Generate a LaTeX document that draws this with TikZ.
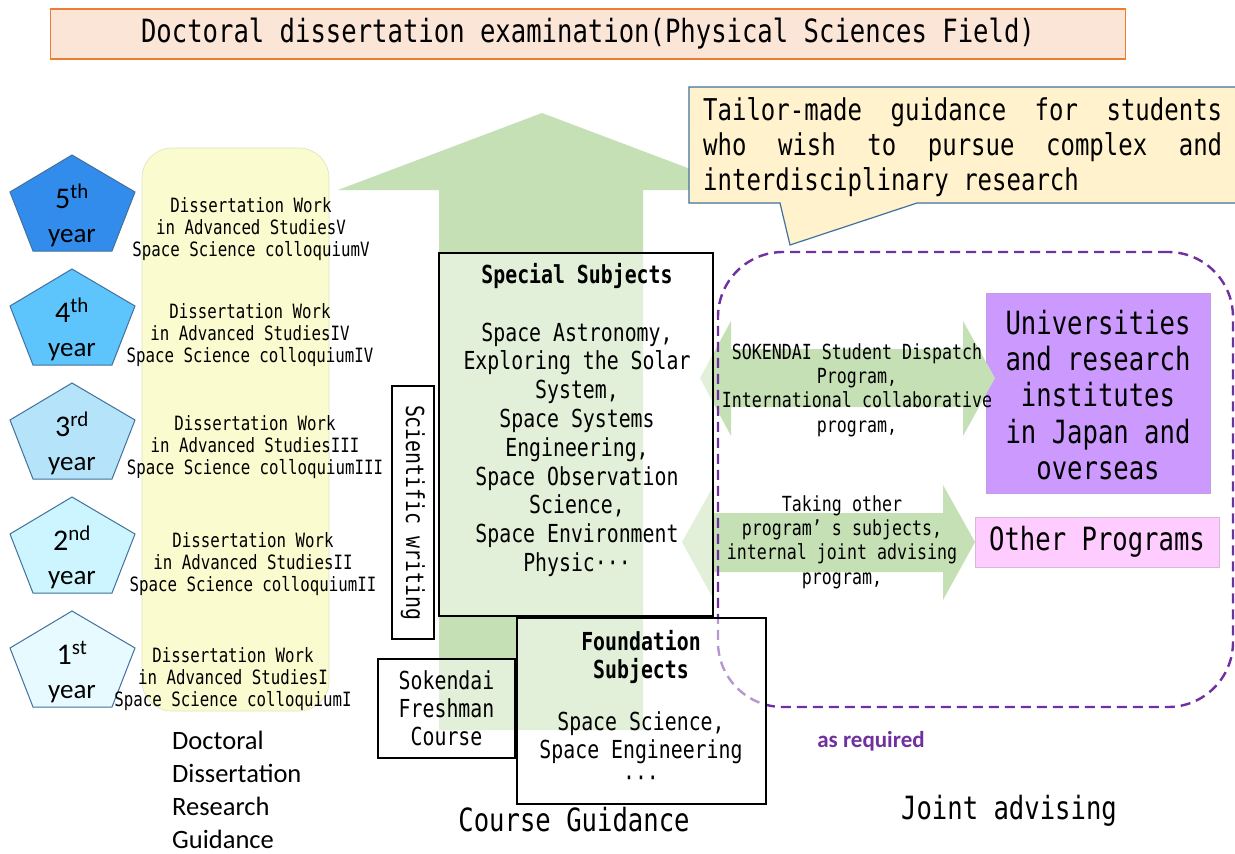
\documentclass[tikz,border=0pt]{standalone}
\usepackage{fontspec}
\setmainfont{Carlito}
\newfontfamily\gth[FakeStretch=0.8]{DejaVu Sans Mono}
\newfontfamily\calfont{Carlito}
\definecolor{titleF}{RGB}{251,229,214}
\definecolor{titleB}{RGB}{237,125,49}
\definecolor{arrowG}{RGB}{197,224,180}
\definecolor{bandF}{RGB}{250,251,206}
\definecolor{bandB}{RGB}{222,226,196}
\definecolor{pentB}{RGB}{65,113,156}
\definecolor{pA}{RGB}{50,140,236}
\definecolor{pB}{RGB}{94,196,252}
\definecolor{pC}{RGB}{180,227,250}
\definecolor{pD}{RGB}{204,245,255}
\definecolor{pE}{RGB}{230,250,255}
\definecolor{calloutF}{RGB}{255,242,204}
\definecolor{calloutB}{RGB}{65,113,156}
\definecolor{jointP}{RGB}{112,48,160}
\definecolor{uniF}{RGB}{204,153,255}
\definecolor{uniB}{RGB}{190,160,225}
\definecolor{othF}{RGB}{255,204,255}
\definecolor{othB}{RGB}{215,185,215}
\tikzset{
  pics/pent/.style={code={\draw[pentB,line width=1pt,fill=#1] (0,0) -- (63,37) -- (40,96) -- (-39,96) -- (-62,37) -- cycle;}},
  yrtxt/.style={anchor=base, inner sep=0pt, font=\calfont\fontsize{27}{32}\selectfont},
  yrnum/.style={anchor=base, inner sep=0pt, font=\calfont\fontsize{30}{32}\selectfont},
  dwtxt/.style={align=center, inner sep=0pt, font=\gth\fontsize{19.7}{22}\selectfont},
  whitebox/.style={draw=black, line width=1.3pt, fill=white, fill opacity=0.5, text opacity=1, inner sep=0pt},
  g25/.style={inner sep=0pt, align=center, font=\gth\fontsize{24.8}{28.8}\selectfont},
  g32/.style={inner sep=0pt, align=center, font=\gth\fontsize{32}{36.2}\selectfont},
  arrtxt/.style={inner sep=0pt, align=center, font=\gth\fontsize{20.8}{24.3}\selectfont},
  ctxt/.style={anchor=base west, inner sep=0pt, font=\gth\fontsize{30}{35}\selectfont},
  blockarrow/.style={fill=arrowG}
}
\begin{document}
\begin{tikzpicture}[x=1pt,y=-1pt]
\useasboundingbox (0,0) rectangle (1235,854);
\fill[white] (0,0) rectangle (1235,854);

% big upward arrow
\fill[arrowG] (439,730) -- (439,190) -- (338,190) -- (542,113) -- (746,190) -- (643,190) -- (643,730) -- cycle;

% yellow band
\node[fill=bandF, draw=bandB, line width=0.6pt, rounded corners=30pt, minimum width=187pt, minimum height=563pt, inner sep=0pt] (band) at (235.5,429.5) {};

% title
\node[draw=titleB, line width=1.3pt, fill=titleF, minimum width=1075pt, minimum height=50pt, inner sep=0pt, font=\gth\fontsize{32}{38}\selectfont] (title) at (588,34) {Doctoral dissertation examination(Physical Sciences Field)};

% pentagons
\pic at (72,155) {pent=pA};
\pic at (72,269) {pent=pB};
\pic at (72,383) {pent=pC};
\pic at (72,497) {pent=pD};
\pic at (72,611) {pent=pE};
\node[yrnum] (n5) at (72,208) {5\textsuperscript{th}};
\node[yrtxt] (y5) at (72,242) {year};
\node[yrnum] (n4) at (72,322) {4\textsuperscript{th}};
\node[yrtxt] (y4) at (72,356) {year};
\node[yrnum] (n3) at (72,436) {3\textsuperscript{rd}};
\node[yrtxt] (y3) at (72,470) {year};
\node[yrnum] (n2) at (72,550) {2\textsuperscript{nd}};
\node[yrtxt] (y2) at (72,584) {year};
\node[yrnum] (n1) at (72,664) {1\textsuperscript{st}};
\node[yrtxt] (y1) at (72,698) {year};

% dissertation work texts
\node[dwtxt] (d5) at (251,229) {Dissertation Work\\ in Advanced StudiesV\\Space Science colloquiumV};
\node[dwtxt] (d4) at (250,335) {Dissertation Work\\ in Advanced StudiesIV\\Space Science colloquiumIV};
\node[dwtxt] (d3) at (255,447) {Dissertation Work\\ in Advanced StudiesIII\\Space Science colloquiumIII};
\node[dwtxt] (d2) at (253,564) {Dissertation Work\\ in Advanced StudiesII\\Space Science colloquiumII};
\node[dwtxt] (d1) at (233,679) {Dissertation Work\\ in Advanced StudiesI\\Space Science colloquiumI};

\node[anchor=west, inner sep=0pt, align=left, font=\calfont\fontsize{26.5}{33}\selectfont] (ddrg) at (172,790) {Doctoral\\Dissertation\\Research\\Guidance};

% universities / other programs
\node[fill=uniF, draw=uniB, line width=0.8pt, minimum width=224pt, minimum height=200pt, inner sep=0pt] (uni) at (1098,393) {};
\node[g32] (unitxt) at (1098,395) {Universities\\and research\\institutes\\in Japan and\\overseas};
\node[fill=othF, draw=othB, line width=0.8pt, minimum width=244pt, minimum height=50pt, inner sep=0pt, font=\gth\fontsize{32}{36}\selectfont] (oth) at (1097,542) {Other Programs};

% double arrows
\fill[blockarrow] (700,378) -- (731,321) -- (731,349) -- (963,349) -- (963,321) -- (995,378) -- (963,436) -- (963,407) -- (731,407) -- (731,436) -- cycle;
\fill[blockarrow] (682,542) -- (714,485) -- (714,513) -- (943,513) -- (943,485) -- (975,542) -- (943,600) -- (943,572) -- (714,572) -- (714,600) -- cycle;
\node[arrtxt] (a1txt) at (857,390) {SOKENDAI Student Dispatch\\Program,\\International collaborative\\program,};
\node[arrtxt] (a2txt) at (842,542) {Taking other\\program’ s subjects,\\internal joint advising\\program,};

% joint advising dashed frame
\node[draw=jointP, line width=2.4pt, dash pattern=on 10pt off 6pt, rounded corners=65pt, minimum width=515pt, minimum height=455pt, inner sep=0pt] (joint) at (975.5,479.5) {};

% course boxes
\node[whitebox, minimum width=274pt, minimum height=363pt] (special) at (576,434.5) {};
\node[g25] (sptxt) at (577,420) {\textbf{Special Subjects}\\[28.8pt]Space Astronomy,\\Exploring the Solar\\System,\\Space Systems\\Engineering,\\Space Observation\\Science,\\Space Environment\\Physic···};
\node[whitebox, minimum width=249pt, minimum height=186pt] (found) at (641.5,711) {};
\node[g25, font=\gth\fontsize{24.8}{28}\selectfont] (fdtxt) at (641,708) {\textbf{Foundation}\\\textbf{Subjects}\\[24pt]Space Science,\\Space Engineering\\···};
\node[whitebox, g25, font=\gth\fontsize{24.8}{28}\selectfont, minimum width=137pt, minimum height=99pt] (soken) at (446.5,708.5) {Sokendai\\Freshman\\Course};
\node[draw=black, line width=1.3pt, fill=white, inner sep=0pt, rotate=-90, minimum width=253pt, minimum height=42pt, font=\gth\fontsize{24.8}{28}\selectfont] (sci) at (413,512.5) {Scientific writing};

\node[g32] (cg) at (574,820) {Course Guidance};
\node[g32] (ja) at (1009,811) {Joint advising};
\node[inner sep=0pt, text=jointP, font=\calfont\bfseries\fontsize{23}{26}\selectfont] (asreq) at (871,741) {as required};

% callout
\filldraw[fill=calloutF, draw=calloutB, line width=1.2pt] (689,87) -- (1245,87) -- (1245,203) -- (917,203) -- (790,245) -- (780,203) -- (689,203) -- cycle;
\node[ctxt] (c1) at (703,120) {\hbox to 519pt{Tailor-made\hfill guidance\hfill for\hfill students}};
\node[ctxt] (c2) at (703,155) {\hbox to 519pt{who\hfill wish\hfill to\hfill pursue\hfill complex\hfill and}};
\node[ctxt] (c3) at (703,190) {interdisciplinary research};
\end{tikzpicture}
\end{document}
